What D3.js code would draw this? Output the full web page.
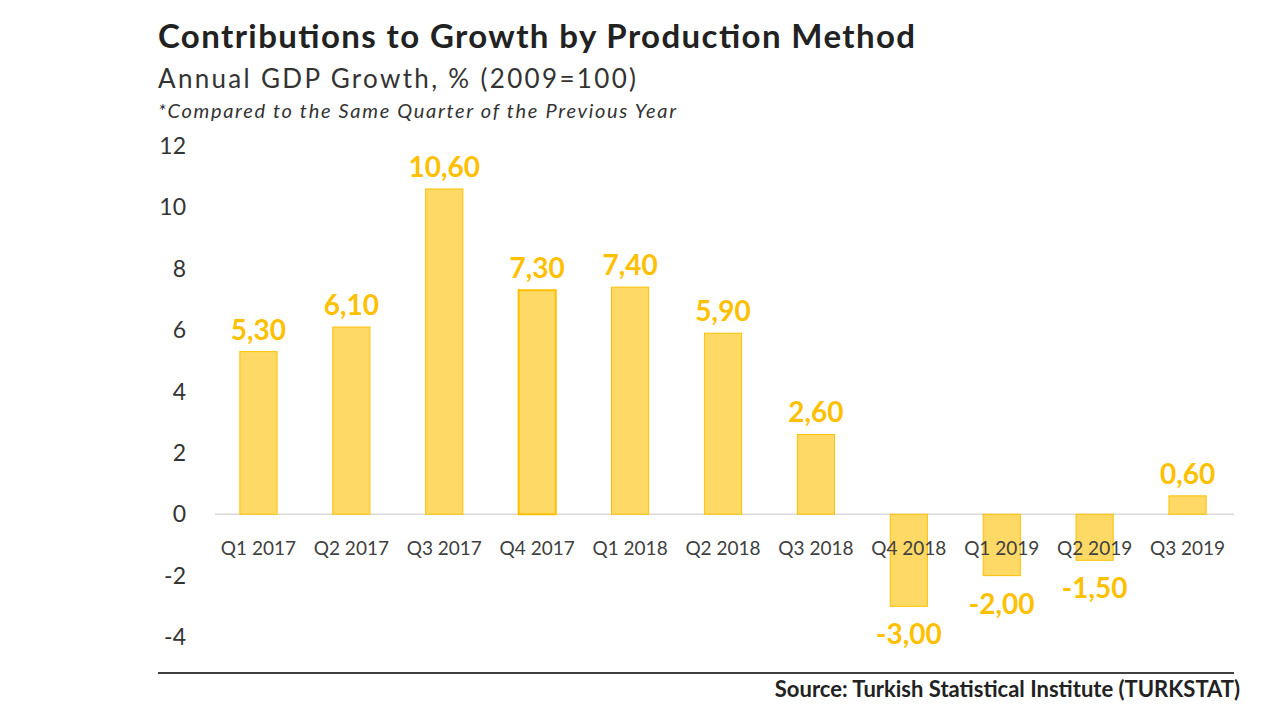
<!DOCTYPE html>
<meta charset="utf-8">
<style>
body { margin: 0; background: #fff; }
text { font-family: Lato, "Open Sans", sans-serif; }
</style>
<svg width="1280" height="720"></svg>
<script src="https://d3js.org/d3.v7.min.js"></script>
<script>
var quarters = ["Q1 2017","Q2 2017","Q3 2017","Q4 2017","Q1 2018","Q2 2018","Q3 2018","Q4 2018","Q1 2019","Q2 2019","Q3 2019"];
var growth = [5.3, 6.1, 10.6, 7.3, 7.4, 5.9, 2.6, -3.0, -2.0, -1.5, 0.6];
var yTicks = [-4, -2, 0, 2, 4, 6, 8, 10, 12];

var svg = d3.select("svg");
var x = d3.scaleBand().domain(quarters).range([212, 1234]).paddingInner(0.6).paddingOuter(0.3);
var y = d3.scaleLinear().domain([-4, 12]).range([637, 146]);
var fmt = function(v) { return v.toFixed(2).replace(".", ","); };

svg.append("text").attr("x", 158).attr("y", 48).attr("font-size", 33).attr("font-weight", "bold")
  .attr("fill", "#222").attr("textLength", 757).text("Contributions to Growth by Production Method");
svg.append("text").attr("x", 158).attr("y", 88).attr("font-size", 26).attr("fill", "#333")
  .attr("textLength", 478).text("Annual GDP Growth, % (2009=100)");
svg.append("text").attr("x", 158).attr("y", 118).attr("font-size", 20).attr("font-style", "italic")
  .attr("fill", "#333").attr("textLength", 518).text("*Compared to the Same Quarter of the Previous Year");

svg.append("g").selectAll("text").data(yTicks).join("text")
  .attr("x", 186).attr("y", function(d) { return y(d); }).attr("dy", "0.35em")
  .attr("text-anchor", "end").attr("font-size", 23).attr("fill", "#333")
  .text(function(d) { return d; });

svg.append("line").attr("x1", 215).attr("x2", 1234).attr("y1", y(0)).attr("y2", y(0))
  .attr("stroke", "#d9d9d9").attr("stroke-width", 1.5);

svg.append("g").selectAll("rect").data(growth).join("rect")
  .attr("x", function(d, i) { return x(quarters[i]); })
  .attr("width", x.bandwidth())
  .attr("y", function(d) { return y(Math.max(0, d)); })
  .attr("height", function(d) { return Math.abs(y(d) - y(0)); })
  .attr("fill", "#FFD966").attr("stroke", "#FFC000")
  .attr("stroke-width", function(d, i) { return i === 3 ? 2 : 1; });

svg.append("g").selectAll("text").data(quarters).join("text")
  .attr("x", function(d) { return x(d) + x.bandwidth() / 2; }).attr("y", 555)
  .attr("text-anchor", "middle").attr("font-size", 19).attr("fill", "#404040")
  .text(function(d) { return d; });

svg.append("g").selectAll("text").data(growth).join("text")
  .attr("x", function(d, i) { return x(quarters[i]) + x.bandwidth() / 2; })
  .attr("y", function(d) { return d >= 0 ? y(d) - 12 : y(d) + 38; })
  .attr("text-anchor", "middle").attr("font-size", 28).attr("font-weight", "bold")
  .attr("fill", "#FFC000").text(fmt);

svg.append("line").attr("x1", 158).attr("x2", 1234).attr("y1", 673).attr("y2", 673)
  .attr("stroke", "#404040").attr("stroke-width", 2);
svg.append("text").attr("x", 1240).attr("y", 697).attr("text-anchor", "end")
  .attr("font-size", 22).attr("font-weight", "bold").attr("fill", "#222")
  .text("Source: Turkish Statistical Institute (TURKSTAT)");
</script>
